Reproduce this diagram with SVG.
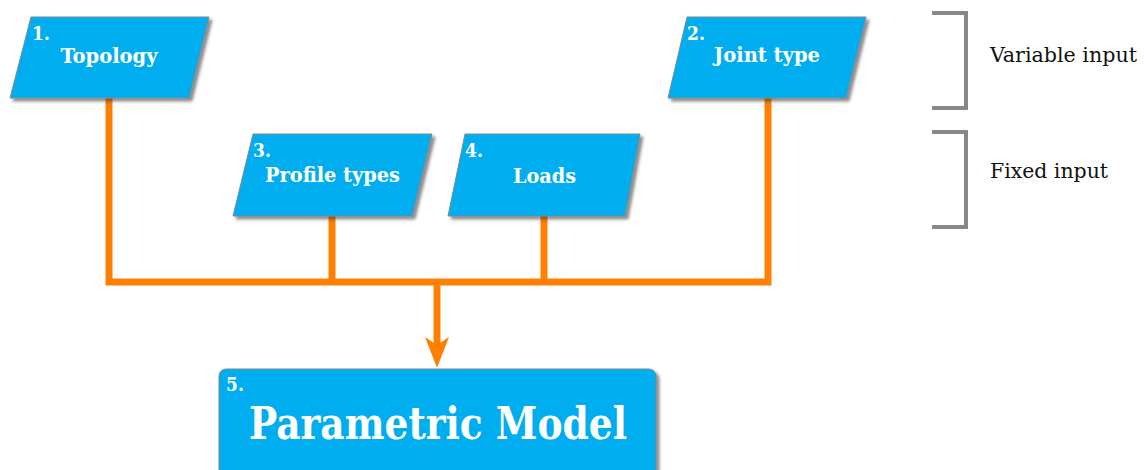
<svg xmlns="http://www.w3.org/2000/svg" width="1147" height="470" viewBox="0 0 1147 470">
  <style>
    .box { fill: #00aeef; stroke: #7a8a95; stroke-width: 1; filter: url(#shadow); }
    .num { font-family: "DejaVu Serif Condensed", "DejaVu Serif", "Liberation Serif", serif; font-weight: bold; font-size: 19px; fill: #ffffff; }
    .lbl { font-family: "DejaVu Serif Condensed", "DejaVu Serif", "Liberation Serif", serif; font-weight: bold; font-size: 21px; fill: #ffffff; text-anchor: middle; }
    .big { font-family: "DejaVu Serif Condensed", "DejaVu Serif", "Liberation Serif", serif; font-weight: bold; font-size: 45px; fill: #ffffff; text-anchor: middle; }
    .side { font-family: "DejaVu Serif Condensed", "DejaVu Serif", "Liberation Serif", serif; font-size: 21px; fill: #111111; }
    .wire { fill: none; stroke: #ff8000; stroke-width: 7; }
    .brace { fill: none; stroke: #888888; stroke-width: 4; }
  </style>
  <defs>
    <filter id="shadow" x="-10%" y="-10%" width="125%" height="130%">
      <feDropShadow dx="3" dy="3" stdDeviation="1.5" flood-color="#333333" flood-opacity="0.55"/>
    </filter>
  </defs>

  <!-- connectors -->
  <g id="connectors">
    <path class="wire" d="M109,98 V282 H768 V98"/>
    <path class="wire" d="M332,216 V282"/>
    <path class="wire" d="M544,216 V282"/>
    <path class="wire" d="M437,282 V350"/>
    <path d="M437,368 L425,337 L437,345 L449,337 Z" fill="#ff8000"/>
  </g>

  <!-- input nodes -->
  <g id="node-topology">
    <polygon class="box" points="31,17 209,17 189,98 10,98"/>
    <text class="num" x="32" y="40">1.</text>
    <text class="lbl" x="109" y="63" textLength="97" lengthAdjust="spacingAndGlyphs">Topology</text>
  </g>
  <g id="node-joint-type">
    <polygon class="box" points="687,17 866,17 846,98 668,98"/>
    <text class="num" x="687" y="40">2.</text>
    <text class="lbl" x="767" y="62" textLength="106" lengthAdjust="spacingAndGlyphs">Joint type</text>
  </g>
  <g id="node-profile-types">
    <polygon class="box" points="253,134 432,134 412,216 233,216"/>
    <text class="num" x="253" y="157">3.</text>
    <text class="lbl" x="332.5" y="182" textLength="135" lengthAdjust="spacingAndGlyphs">Profile types</text>
  </g>
  <g id="node-loads">
    <polygon class="box" points="465,134 640,134 625,216 448,216"/>
    <text class="num" x="465" y="157">4.</text>
    <text class="lbl" x="544.5" y="183" textLength="63" lengthAdjust="spacingAndGlyphs">Loads</text>
  </g>

  <!-- output node -->
  <g id="node-parametric-model">
    <rect class="box" x="219" y="369" width="437" height="112" rx="7" ry="7"/>
    <text class="num" x="226" y="391">5.</text>
    <text class="big" x="438" y="439" textLength="378" lengthAdjust="spacingAndGlyphs">Parametric Model</text>
  </g>

  <!-- legend brackets -->
  <g id="legend-variable">
    <path class="brace" d="M932,13 H966 V108 H932"/>
    <text class="side" x="990" y="62" textLength="147" lengthAdjust="spacingAndGlyphs">Variable input</text>
  </g>
  <g id="legend-fixed">
    <path class="brace" d="M932,132 H966 V227 H932"/>
    <text class="side" x="990" y="178" textLength="118" lengthAdjust="spacingAndGlyphs">Fixed input</text>
  </g>
</svg>
